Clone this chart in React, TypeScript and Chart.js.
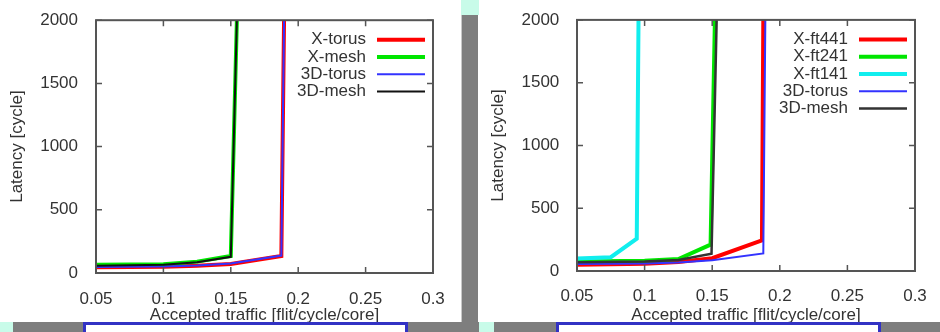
import React, { useEffect, useRef } from 'react';
import { Chart, registerables } from 'chart.js';

Chart.register(...registerables);

// ---------- data ----------
const xTickValues = [0.05, 0.1, 0.15, 0.2, 0.25, 0.3];
const xTickLabels = ['0.05', '0.1', '0.15', '0.2', '0.25', '0.3'];
const yTickValues = [0, 500, 1000, 1500, 2000];
const yTickLabels = ['0', '500', '1000', '1500', '2000'];

const xAxisTitle = 'Accepted traffic [flit/cycle/core]';
const yAxisTitle = 'Latency [cycle]';

// left chart
const leftSeriesNames = ['X-torus', 'X-mesh', '3D-torus', '3D-mesh'];
const leftXTorusX = [0.05, 0.1, 0.125, 0.15, 0.1875, 0.1895];
const leftXTorusY = [45, 50, 58, 72, 135, 2000];
const leftXMeshX = [0.05, 0.1, 0.125, 0.15, 0.1545];
const leftXMeshY = [65, 70, 90, 135, 2000];
const left3DTorusX = [0.05, 0.1, 0.125, 0.15, 0.1875, 0.1895];
const left3DTorusY = [48, 52, 60, 75, 138, 2000];
const left3DMeshX = [0.05, 0.1, 0.125, 0.15, 0.1545];
const left3DMeshY = [58, 65, 85, 128, 2000];

// right chart
const rightSeriesNames = ['X-ft441', 'X-ft241', 'X-ft141', '3D-torus', '3D-mesh'];
const rightFt441X = [0.05, 0.1, 0.125, 0.15, 0.1868, 0.1878];
const rightFt441Y = [50, 58, 72, 102, 244, 2000];
const rightFt241X = [0.05, 0.1, 0.125, 0.1488, 0.152];
const rightFt241Y = [75, 82, 95, 210, 2000];
const rightFt141X = [0.05, 0.075, 0.0942, 0.0955];
const rightFt141Y = [100, 110, 257, 2000];
const right3DTorusX = [0.05, 0.1, 0.125, 0.15, 0.1878, 0.1893];
const right3DTorusY = [55, 60, 68, 85, 140, 2000];
const right3DMeshX = [0.05, 0.1, 0.125, 0.1495, 0.1533];
const right3DMeshY = [70, 75, 88, 138, 2000];

// ---------- styling ----------
const FONT_FAMILY = "'Liberation Sans', Arial, sans-serif";
const FONT_SIZE = 17;
const TEXT_COLOR = '#333333';

type Series = { label: string; xs: number[]; ys: number[]; color: string; width: number };

const pts = (xs: number[], ys: number[]) => xs.map((x, i) => ({ x, y: ys[i] }));

const gnuplotPlugin = {
  id: 'gnuplotFrame',
  afterDatasetsDraw(chart: any) {
    const { ctx, chartArea: a, scales } = chart;
    ctx.save();
    // inward ticks (mirrored)
    ctx.strokeStyle = '#555555';
    ctx.lineWidth = 1.5;
    const tl = 6;
    ctx.beginPath();
    scales.x.ticks.forEach((t: any) => {
      const px = scales.x.getPixelForValue(t.value);
      ctx.moveTo(px, a.bottom);
      ctx.lineTo(px, a.bottom - tl);
      ctx.moveTo(px, a.top);
      ctx.lineTo(px, a.top + tl);
    });
    scales.y.ticks.forEach((t: any) => {
      const py = scales.y.getPixelForValue(t.value);
      ctx.moveTo(a.left, py);
      ctx.lineTo(a.left + tl, py);
      ctx.moveTo(a.right, py);
      ctx.lineTo(a.right - tl, py);
    });
    ctx.stroke();
    // frame
    ctx.lineWidth = 2;
    ctx.strokeRect(a.left, a.top, a.right - a.left, a.bottom - a.top);
    // gnuplot-style key: text right-aligned, sample line to the right
    ctx.font = `${FONT_SIZE}px ${FONT_FAMILY}`;
    ctx.textAlign = 'right';
    ctx.textBaseline = 'middle';
    chart.data.datasets.forEach((ds: any, i: number) => {
      const y = a.top + 19.5 + i * 17.3;
      ctx.fillStyle = TEXT_COLOR;
      ctx.fillText(ds.label, a.right - 67, y);
      ctx.strokeStyle = ds.borderColor;
      ctx.lineWidth = ds.borderWidth;
      ctx.beginPath();
      ctx.moveTo(a.right - 56, y);
      ctx.lineTo(a.right - 8, y);
      ctx.stroke();
    });
    ctx.restore();
  },
};

type Geo = {
  padTop: number;
  padRight: number;
  yAxisW: number;
  xAxisH: number;
  yTitlePad: number;
  xTickPad: number;
  yTickPad: number;
  xTitlePadBottom: number;
};

function makeConfig(series: Series[], g: Geo): any {
  const font = { family: FONT_FAMILY, size: FONT_SIZE };
  const n = series.length;
  return {
    type: 'line',
    data: {
      datasets: series.map((s, i) => ({
        label: s.label,
        data: pts(s.xs, s.ys),
        borderColor: s.color,
        backgroundColor: s.color,
        borderWidth: s.width,
        pointRadius: 0,
        pointHoverRadius: 0,
        tension: 0,
        fill: false,
        order: n - i,
      })),
    },
    options: {
      responsive: false,
      animation: false,
      events: [],
      layout: { padding: { left: 0, top: g.padTop, right: g.padRight, bottom: 0 } },
      plugins: { legend: { display: false }, tooltip: { enabled: false } },
      scales: {
        x: {
          type: 'linear',
          min: 0.05,
          max: 0.3,
          afterBuildTicks: (s: any) => {
            s.ticks = xTickValues.map((v) => ({ value: v }));
          },
          afterFit: (s: any) => {
            s.height = g.xAxisH;
          },
          grid: { display: false },
          border: { display: false },
          ticks: {
            callback: (_v: any, i: number) => xTickLabels[i],
            font,
            color: TEXT_COLOR,
            padding: g.xTickPad,
            maxRotation: 0,
            autoSkip: false,
          },
          title: {
            display: true,
            text: xAxisTitle,
            font,
            color: TEXT_COLOR,
            padding: { top: 0, bottom: g.xTitlePadBottom },
          },
        },
        y: {
          type: 'linear',
          min: 0,
          max: 2000,
          afterBuildTicks: (s: any) => {
            s.ticks = yTickValues.map((v) => ({ value: v }));
          },
          afterFit: (s: any) => {
            s.width = g.yAxisW;
          },
          grid: { display: false },
          border: { display: false },
          ticks: {
            callback: (_v: any, i: number) => yTickLabels[i],
            font,
            color: TEXT_COLOR,
            padding: g.yTickPad,
            autoSkip: false,
          },
          title: {
            display: true,
            text: yAxisTitle,
            font,
            color: TEXT_COLOR,
            padding: { top: g.yTitlePad, bottom: 0 },
          },
        },
      },
    },
    plugins: [gnuplotPlugin],
  };
}

const leftSeries: Series[] = [
  { label: leftSeriesNames[0], xs: leftXTorusX, ys: leftXTorusY, color: '#ff0000', width: 4 },
  { label: leftSeriesNames[1], xs: leftXMeshX, ys: leftXMeshY, color: '#00e600', width: 4 },
  { label: leftSeriesNames[2], xs: left3DTorusX, ys: left3DTorusY, color: '#3333ff', width: 2 },
  { label: leftSeriesNames[3], xs: left3DMeshX, ys: left3DMeshY, color: '#111111', width: 2 },
];

const rightSeries: Series[] = [
  { label: rightSeriesNames[0], xs: rightFt441X, ys: rightFt441Y, color: '#ff0000', width: 4 },
  { label: rightSeriesNames[1], xs: rightFt241X, ys: rightFt241Y, color: '#00e600', width: 4 },
  { label: rightSeriesNames[2], xs: rightFt141X, ys: rightFt141Y, color: '#11eeee', width: 4 },
  { label: rightSeriesNames[3], xs: right3DTorusX, ys: right3DTorusY, color: '#3333ff', width: 2 },
  { label: rightSeriesNames[4], xs: right3DMeshX, ys: right3DMeshY, color: '#333333', width: 2.5 },
];

const leftGeo: Geo = {
  padTop: 19,
  padRight: 29,
  yAxisW: 96,
  xAxisH: 59,
  yTitlePad: 6.8,
  xTickPad: 7.8,
  yTickPad: 10,
  xTitlePadBottom: 6.3,
};

const rightGeo: Geo = {
  padTop: 17,
  padRight: 25,
  yAxisW: 99,
  xAxisH: 61,
  yTitlePad: 10.1,
  xTickPad: 7.1,
  yTickPad: 9.7,
  xTitlePadBottom: 6.3,
};

function ChartCanvas({ series, geo, width, height }: { series: Series[]; geo: Geo; width: number; height: number }) {
  const ref = useRef<HTMLCanvasElement | null>(null);
  useEffect(() => {
    if (!ref.current) return;
    const chart = new Chart(ref.current, makeConfig(series, geo));
    return () => chart.destroy();
  }, [series, geo]);
  return <canvas ref={ref} width={width} height={height} style={{ display: 'block', width, height }} />;
}

const MINT = '#c8fbe9';
const GRAY = '#7e7e7e';
const BLUE = '#3232c4';

export default function App() {
  const abs = (l: number, t: number, w: number, h: number, extra: any = {}) => ({
    position: 'absolute' as const,
    left: l,
    top: t,
    width: w,
    height: h,
    ...extra,
  });
  return (
    <div style={{ position: 'absolute', left: 0, top: 0, width: 940, height: 332, background: GRAY, overflow: 'hidden' }}>
      {/* left white panel with chart */}
      <div style={abs(0, 0, 462, 322, { background: '#ffffff' })} />
      <div style={abs(0, 0, 462, 332)}>
        <ChartCanvas series={leftSeries} geo={leftGeo} width={462} height={332} />
      </div>
      {/* right white panel with chart */}
      <div style={abs(478, 0, 462, 322, { background: '#ffffff' })} />
      <div style={abs(478, 0, 462, 332)}>
        <ChartCanvas series={rightSeries} geo={rightGeo} width={462} height={332} />
      </div>
      {/* middle strip */}
      <div style={abs(461, 0, 1, 332, { background: '#c8c8c8' })} />
      <div style={abs(462, 15, 16, 317, { background: GRAY })} />
      <div style={abs(461, 0, 18, 15, { background: MINT })} />
      {/* bottom bar */}
      <div style={abs(0, 322, 940, 10, { background: GRAY })} />
      <div style={abs(0, 322, 13, 10, { background: MINT })} />
      <div style={abs(479, 322, 15, 10, { background: MINT })} />
      <div style={abs(83, 322, 325, 16, { background: '#ffffff', border: `3px solid ${BLUE}`, boxSizing: 'border-box' })} />
      <div style={abs(556, 322, 325, 16, { background: '#ffffff', border: `3px solid ${BLUE}`, boxSizing: 'border-box' })} />
    </div>
  );
}
